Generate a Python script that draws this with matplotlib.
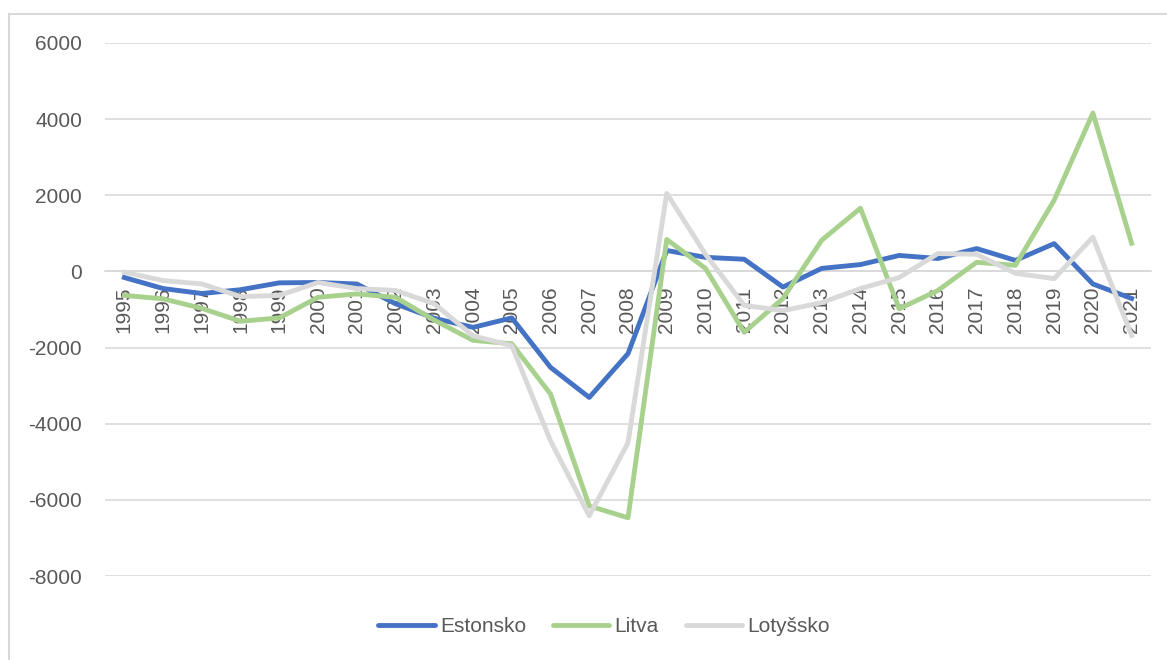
import matplotlib.pyplot as plt
from matplotlib.lines import Line2D

# data
years = [str(y) for y in range(1995, 2022)]
estonsko = [-160, -450, -580, -480, -300, -290, -330, -850, -1230, -1470,
            -1220, -2520, -3310, -2160, 550, 370, 320, -410, 80, 180,
            420, 340, 600, 290, 730, -330, -710]
litva = [-630, -720, -970, -1310, -1220, -680, -590, -680, -1280, -1810,
         -1900, -3220, -6160, -6470, 840, 80, -1600, -710, 820, 1660,
         -980, -500, 240, 160, 1870, 4160, 740]
lotyssko = [-20, -240, -330, -660, -630, -290, -450, -500, -850, -1690,
            -1950, -4450, -6420, -4500, 2050, 450, -890, -1030, -820, -450,
            -160, 470, 450, -50, -190, 900, -1680]
yticks = [-8000, -6000, -4000, -2000, 0, 2000, 4000, 6000]

plt.rcParams['font.family'] = ['Liberation Sans', 'DejaVu Sans']
txt = '#595959'
grid = '#D9D9D9'

fig = plt.figure(figsize=(11.67, 6.6), dpi=100)
ax = fig.add_axes([105 / 1167, 1 - 576 / 660, (1151 - 105) / 1167, (576 - 43) / 660])

x = range(len(years))
ax.plot(x, estonsko, color='#4472C4', lw=3.5, label='Estonsko', solid_joinstyle='round', zorder=3)
ax.plot(x, litva, color='#A9D18E', lw=3.5, label='Litva', solid_joinstyle='round', zorder=3)
ax.plot(x, lotyssko, color='#D9D9D9', lw=3.5, label='Lotyšsko', solid_joinstyle='round', zorder=3)

ax.set_xlim(-0.5, len(years) - 0.5)
ax.set_ylim(-8000, 6000)
ax.set_yticks(yticks)
ax.set_yticklabels([str(v) for v in yticks])
ax.set_xticks(list(x))
ax.set_xticklabels(years)
ax.tick_params(axis='y', length=0, pad=16.5, labelsize=15, labelcolor=txt)
ax.tick_params(axis='x', length=0, pad=11, labelsize=15, labelcolor=txt, labelrotation=90)

ax.grid(axis='y', color=grid, lw=1.2)
ax.set_axisbelow(True)
for s in ['top', 'right', 'left']:
    ax.spines[s].set_visible(False)
ax.spines['bottom'].set_position(('data', 0))
ax.spines['bottom'].set_color(grid)
ax.spines['bottom'].set_linewidth(1.2)

leg = ax.legend(loc='center', bbox_to_anchor=(604 / 1167, 1 - 627 / 660),
                bbox_transform=fig.transFigure, ncol=3, frameon=False,
                fontsize=15, handlelength=2.7, handletextpad=0.25,
                columnspacing=1.3)
for t in leg.get_texts():
    t.set_color(txt)
for h in leg.get_lines():
    h.set_solid_capstyle('round')

# chart border (only top and left are inside the crop)
fig.add_artist(Line2D([9 / 1167, 9 / 1167], [0, 1 - 14 / 660], transform=fig.transFigure,
                      color=grid, lw=1.5))
fig.add_artist(Line2D([9 / 1167, 1], [1 - 14 / 660, 1 - 14 / 660], transform=fig.transFigure,
                      color=grid, lw=1.5))

fig.savefig('out.png', dpi=100)
